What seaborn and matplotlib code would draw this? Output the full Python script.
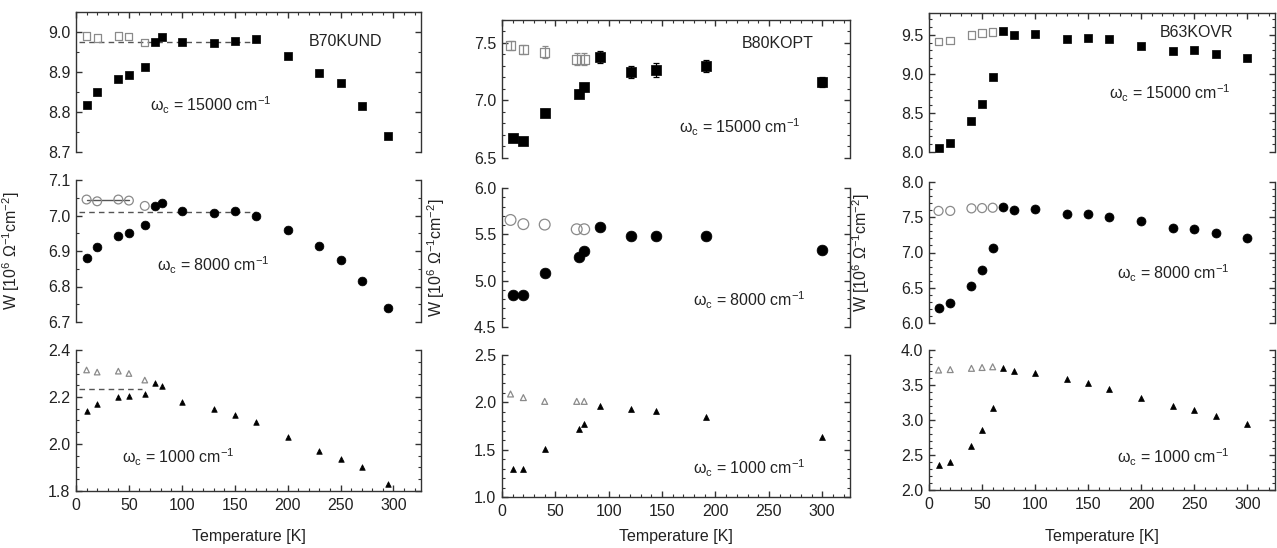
import numpy as np
import pandas as pd
import matplotlib
matplotlib.use("Agg")
import matplotlib.pyplot as plt
from matplotlib.ticker import MultipleLocator
import seaborn as sns

# ---------------- data ----------------
samples = ["B70KUND", "B80KOPT", "B63KOVR"]
cutoffs = ["15000", "8000", "1000"]

# B70KUND
t_und = [10, 20, 40, 50, 65, 75, 81, 100, 130, 150, 170, 200, 230, 250, 270, 295]
t_und_open = [10, 20, 40, 50, 65]
w_und_15000 = [8.818, 8.85, 8.882, 8.892, 8.913, 8.975, 8.987, 8.975, 8.972, 8.978, 8.982, 8.94, 8.898, 8.873, 8.815, 8.74]
w_und_15000_open = [8.99, 8.985, 8.99, 8.988, 8.973]
w_und_8000 = [6.879, 6.91, 6.941, 6.952, 6.972, 7.028, 7.034, 7.014, 7.008, 7.014, 7.0, 6.958, 6.913, 6.876, 6.815, 6.74]
w_und_8000_open = [7.045, 7.04, 7.045, 7.042, 7.027]
w_und_1000 = [2.14, 2.17, 2.20, 2.205, 2.213, 2.26, 2.247, 2.18, 2.149, 2.125, 2.094, 2.03, 1.97, 1.935, 1.90, 1.83]
w_und_1000_open = [2.315, 2.306, 2.31, 2.30, 2.272]
# dashed reference levels (left column): level, T start, T end
ref_und = {"15000": (8.975, 3, 170), "8000": (7.010, 3, 170), "1000": (2.234, 3, 62)}
ref_und_solid_8000 = (7.043, 10, 50)

# B80KOPT
t_opt = [10, 20, 40, 72, 77, 92, 121, 144, 191, 300]
t_opt_open = [8, 20, 40, 70, 77]
w_opt_15000 = [6.67, 6.645, 6.895, 7.06, 7.115, 7.377, 7.246, 7.265, 7.30, 7.16]
e_opt_15000 = [0.02, 0.02, 0.03, 0.03, 0.03, 0.05, 0.05, 0.06, 0.05, 0.04]
w_opt_15000_open = [7.48, 7.44, 7.42, 7.36, 7.36]
e_opt_15000_open = [0.04, 0.04, 0.05, 0.05, 0.05]
w_opt_8000 = [4.84, 4.84, 5.08, 5.253, 5.32, 5.576, 5.486, 5.486, 5.486, 5.33]
w_opt_8000_open = [5.655, 5.61, 5.605, 5.555, 5.555]
w_opt_1000 = [1.293, 1.293, 1.504, 1.719, 1.771, 1.961, 1.93, 1.912, 1.85, 1.63]
w_opt_1000_open = [2.088, 2.05, 2.01, 2.01, 2.01]

# B63KOVR
t_ovr = [9, 20, 40, 50, 60, 70, 80, 100, 130, 150, 170, 200, 230, 250, 270, 300]
t_ovr_open = [9, 20, 40, 50, 60]
w_ovr_15000 = [8.05, 8.12, 8.40, 8.62, 8.958, 9.55, 9.50, 9.508, 9.445, 9.466, 9.445, 9.363, 9.287, 9.30, 9.26, 9.20]
w_ovr_15000_open = [9.414, 9.43, 9.50, 9.52, 9.54]
w_ovr_8000 = [6.208, 6.28, 6.53, 6.752, 7.068, 7.65, 7.603, 7.61, 7.54, 7.54, 7.51, 7.44, 7.35, 7.34, 7.28, 7.21]
w_ovr_8000_open = [7.59, 7.59, 7.626, 7.63, 7.635]
w_ovr_1000 = [2.357, 2.405, 2.633, 2.857, 3.176, 3.738, 3.705, 3.676, 3.586, 3.524, 3.443, 3.32, 3.205, 3.14, 3.06, 2.95]
w_ovr_1000_open = [3.714, 3.72, 3.738, 3.75, 3.76]

x_ticks = [0, 50, 100, 150, 200, 250, 300]

# ---------------- style ----------------
sns.set_style("ticks")
plt.rcParams["font.family"] = ["Liberation Sans", "DejaVu Sans"]
plt.rcParams["mathtext.fontset"] = "custom"
plt.rcParams["mathtext.rm"] = "Liberation Sans"
plt.rcParams["mathtext.it"] = "Liberation Sans:italic"
plt.rcParams["mathtext.default"] = "regular"

W_PX, H_PX = 1277, 548
fig = plt.figure(figsize=(W_PX / 100, H_PX / 100), dpi=100)

col_x = [(76, 421), (502, 850), (929, 1275)]
row_y = [
    [(12, 152), (180, 322), (350, 491)],
    [(20, 158), (188, 327), (355, 497)],
    [(13, 152), (182, 323), (350, 490)],
]
ylims = [
    [(8.7, 9.05), (6.7, 7.1), (1.8, 2.4)],
    [(6.5, 7.7), (4.5, 6.0), (1.0, 2.5)],
    [(8.0, 9.78), (6.0, 8.0), (2.0, 4.0)],
]
ymaj = [[0.1, 0.1, 0.2], [0.5, 0.5, 0.5], [0.5, 0.5, 0.5]]
ymin = [[0.05, 0.05, 0.05], [0.1, 0.1, 0.1], [0.1, 0.1, 0.1]]

filled = [
    [(t_und, w_und_15000), (t_und, w_und_8000), (t_und, w_und_1000)],
    [(t_opt, w_opt_15000), (t_opt, w_opt_8000), (t_opt, w_opt_1000)],
    [(t_ovr, w_ovr_15000), (t_ovr, w_ovr_8000), (t_ovr, w_ovr_1000)],
]
opened = [
    [(t_und_open, w_und_15000_open), (t_und_open, w_und_8000_open), (t_und_open, w_und_1000_open)],
    [(t_opt_open, w_opt_15000_open), (t_opt_open, w_opt_8000_open), (t_opt_open, w_opt_1000_open)],
    [(t_ovr_open, w_ovr_15000_open), (t_ovr_open, w_ovr_8000_open), (t_ovr_open, w_ovr_1000_open)],
]
markers = ["s", "o", "^"]
msize = [[26, 40, 16], [42, 60, 18], [30, 42, 18]]

omega_pos = [
    [(0.215, 0.336), (0.235, 0.40), (0.133, 0.24)],
    [(0.51, 0.225), (0.55, 0.19), (0.55, 0.20)],
    [(0.52, 0.42), (0.543, 0.355), (0.543, 0.23)],
]
name_pos = [(0.675, 0.79), (0.69, 0.83), (0.667, 0.86)]
ylabel_x = [-0.157, -0.158, -0.165]

FS = 11.5
TXT = "#222222"
GRAY = "#8a8a8a"

for c in range(3):
    x0, x1 = col_x[c]
    for r in range(3):
        yt, yb = row_y[c][r]
        ax = fig.add_axes([x0 / W_PX, 1 - yb / H_PX, (x1 - x0) / W_PX, (yb - yt) / H_PX])
        tf, wf = filled[c][r]
        to, wo = opened[c][r]
        s = msize[c][r]
        m = markers[r]
        # reference lines (left column)
        if c == 0:
            lev, ta, tb = ref_und[cutoffs[r]]
            ax.plot([ta, tb], [lev, lev], ls=(0, (4, 3)), color="#555555", lw=1.0, zorder=1)
            if r == 1:
                lv, a, b = ref_und_solid_8000
                ax.plot([a, b], [lv, lv], ls="-", color="#555555", lw=1.0, zorder=1)
        # error bars (middle top)
        if c == 1 and r == 0:
            ax.errorbar(to, wo, yerr=e_opt_15000_open, fmt="none", ecolor=GRAY,
                        elinewidth=0.9, capsize=2.5, capthick=0.9, zorder=2)
            ax.errorbar(tf, wf, yerr=e_opt_15000, fmt="none", ecolor="black",
                        elinewidth=0.9, capsize=2.5, capthick=0.9, zorder=2)
        sns.scatterplot(x=to, y=wo, ax=ax, marker=m, s=s, color=GRAY,
                        facecolor="none", edgecolor=GRAY, linewidth=0.9, legend=False, zorder=3)
        sns.scatterplot(x=tf, y=wf, ax=ax, marker=m, s=s, color="black",
                        edgecolor="black", linewidth=0.5, legend=False, zorder=4)

        ax.set_xlim(0, 326)
        ax.set_ylim(*ylims[c][r])
        ax.xaxis.set_major_locator(MultipleLocator(50))
        ax.xaxis.set_minor_locator(MultipleLocator(10))
        ax.yaxis.set_major_locator(MultipleLocator(ymaj[c][r]))
        ax.yaxis.set_minor_locator(MultipleLocator(ymin[c][r]))
        ax.yaxis.set_major_formatter(matplotlib.ticker.FormatStrFormatter("%.1f"))

        for sp in ax.spines.values():
            sp.set_color("#333333")
            sp.set_linewidth(1.0)
        ax.spines["top"].set_visible(r == 0)
        ax.spines["bottom"].set_visible(r == 2)
        ax.spines["left"].set_visible(True)
        ax.spines["right"].set_visible(True)

        ax.tick_params(axis="y", which="both", direction="in", left=True, right=True,
                       labelleft=True, labelright=False, colors="#333333",
                       labelcolor=TXT, labelsize=FS, pad=4)
        ax.tick_params(axis="y", which="major", length=4, width=1.0)
        ax.tick_params(axis="y", which="minor", length=2.2, width=0.8)
        ax.tick_params(axis="x", which="both", direction="in", top=(r == 0),
                       bottom=(r == 2), labelbottom=(r == 2), labeltop=False,
                       colors="#333333", labelcolor=TXT, labelsize=FS, pad=5)
        ax.tick_params(axis="x", which="major", length=4, width=1.0)
        ax.tick_params(axis="x", which="minor", length=2.2, width=0.8)
        if r == 2:
            ax.set_xticks(x_ticks)
            ax.set_xlabel("Temperature [K]", fontsize=FS, color=TXT)
            ax.xaxis.set_label_coords(0.5, -(529 - yb) / (yb - yt))
        else:
            ax.set_xlabel("")
        if r == 1:
            ax.set_ylabel(r"W [10$^6$ $\Omega^{-1}$cm$^{-2}$]", fontsize=FS, color=TXT)
            ax.yaxis.set_label_coords(ylabel_x[c], 0.5)
        else:
            ax.set_ylabel("")

        ox, oy = omega_pos[c][r]
        ax.text(ox, oy, r"$\omega_c$ = " + cutoffs[r] + r" cm$^{-1}$", transform=ax.transAxes,
                ha="left", va="center", fontsize=FS, color=TXT)
        if r == 0:
            nx, ny = name_pos[c]
            ax.text(nx, ny, samples[c], transform=ax.transAxes, ha="left", va="center",
                    fontsize=FS, color=TXT)

fig.savefig("out.png", dpi=100)
